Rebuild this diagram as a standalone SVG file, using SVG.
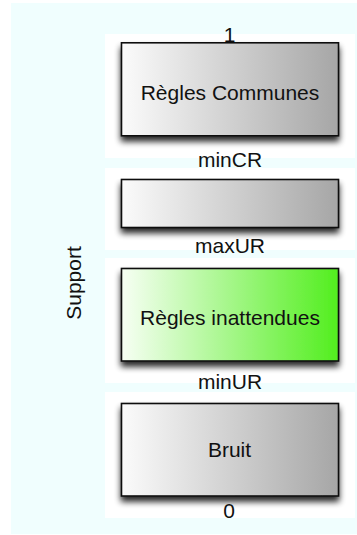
<svg xmlns="http://www.w3.org/2000/svg" width="357" height="535" viewBox="0 0 357 535">
<defs>
<linearGradient id="gGray" x1="0" y1="0" x2="1" y2="0">
<stop offset="0" stop-color="#fbfbfb"/>
<stop offset="1" stop-color="#a6a6a6"/>
</linearGradient>
<linearGradient id="gGreen" x1="0" y1="0" x2="1" y2="0">
<stop offset="0" stop-color="#f7fff4"/>
<stop offset="1" stop-color="#52ee1e"/>
</linearGradient>
<filter id="shadow" x="-10%" y="-10%" width="120%" height="140%">
<feGaussianBlur in="SourceAlpha" stdDeviation="3"/>
<feOffset dx="0" dy="5" result="b"/>
<feComponentTransfer><feFuncA type="linear" slope="0.85"/></feComponentTransfer>
<feMerge><feMergeNode/><feMergeNode in="SourceGraphic"/></feMerge>
</filter>
</defs>
<style>
.panel{fill:#ffffff}
.box{stroke:#111;stroke-width:1.6;filter:url(#shadow)}
.lbl{font-family:"Liberation Sans",Arial,sans-serif;font-size:21px;fill:#111;text-anchor:middle}
</style>
<rect x="11" y="3" width="346" height="531" fill="#f0fefe"/>
<g id="panels">
<rect class="panel" x="105" y="34" width="250" height="124"/>
<rect class="panel" x="105" y="168" width="250" height="82"/>
<rect class="panel" x="105" y="258" width="250" height="125"/>
<rect class="panel" x="105" y="392" width="250" height="126"/>
</g>
<g id="connectors"></g>
<g id="label-1"><text class="lbl" x="229.5" y="42">1</text></g>
<g id="regles-communes">
<rect class="box" x="121.5" y="42.8" width="217" height="93" fill="url(#gGray)"/>
<text class="lbl" x="230" y="100">Règles Communes</text>
</g>
<g id="label-mincr"><text class="lbl" x="230" y="166.5">minCR</text></g>
<g id="box-middle">
<rect class="box" x="121.5" y="179.5" width="217" height="48" fill="url(#gGray)"/>
</g>
<g id="label-maxur"><text class="lbl" x="230" y="253">maxUR</text></g>
<g id="regles-inattendues">
<rect class="box" x="121.5" y="268.5" width="217" height="92.5" fill="url(#gGreen)"/>
<text class="lbl" x="230" y="325">Règles inattendues</text>
</g>
<g id="label-minur"><text class="lbl" x="230" y="388.5">minUR</text></g>
<g id="bruit">
<rect class="box" x="121.5" y="403.5" width="217" height="92.5" fill="url(#gGray)"/>
<text class="lbl" x="229.5" y="457">Bruit</text>
</g>
<g id="label-0"><text class="lbl" x="229" y="518">0</text></g>
<g id="label-support"><text class="lbl" transform="translate(80.5,283) rotate(-90)" x="0" y="0">Support</text></g>
</svg>
